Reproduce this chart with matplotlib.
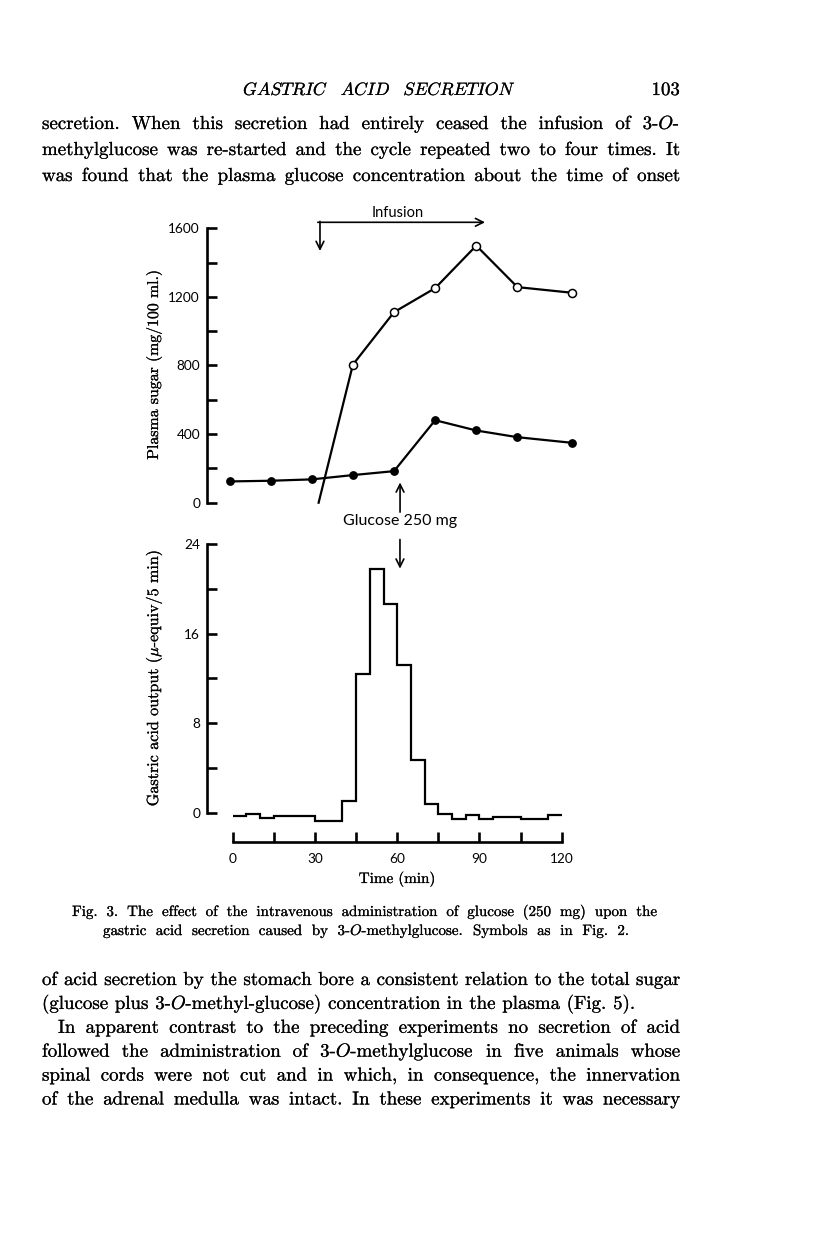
import matplotlib
matplotlib.use('Agg')
import matplotlib.pyplot as plt
import matplotlib.patheffects as pe

plt.rcParams['mathtext.fontset'] = 'cm'
plt.rcParams['axes.unicode_minus'] = False
plt.rcParams['axes.formatter.use_mathtext'] = True

W, H, DPI = 816, 1258, 100

# ---------------- data ----------------
glucose_time = [0, 15, 30, 45, 60, 75, 90, 105, 125]
glucose_sugar = [124, 128, 136, 161, 184, 481, 421, 382, 349]
methyl_time = [32.5, 45, 60, 75, 90, 105, 125]
methyl_sugar = [0, 805, 1111, 1251, 1499, 1257, 1224]
acid_edges = list(range(0, 125, 5))
acid_output = [-0.29, -0.14, -0.50, -0.27, -0.27, -0.27, -0.77, -0.77, 1.04,
               12.4, 21.8, 18.6, 13.2, 4.75, 0.75, -0.14, -0.53, -0.18,
               -0.56, -0.36, -0.36, -0.59, -0.59, -0.23]
sugar_ticks = [0, 400, 800, 1200, 1600]
acid_ticks = [0, 8, 16, 24]
time_ticks = [0, 30, 60, 90, 120]

header_words = [r'$\mathit{GASTRIC}$', r'$\mathit{ACID}$', r'$\mathit{SECRETION}$']
top_lines = [
    "secretion. When this secretion had entirely ceased the infusion of 3-$\\mathit{O}$-",
    "methylglucose was re-started and the cycle repeated two to four times. It",
    "was found that the plasma glucose concentration about the time of onset",
]
caption_lines = [
    "Fig. 3. The effect of the intravenous administration of glucose (250 mg) upon the",
    "gastric acid secretion caused by 3-$\\mathit{O}$-methylglucose. Symbols as in Fig. 2.",
]
bottom_lines = [
    "of acid secretion by the stomach bore a consistent relation to the total sugar",
    "(glucose plus 3-$\\mathit{O}$-methyl-glucose) concentration in the plasma (Fig. 5).",
    "In apparent contrast to the preceding experiments no secretion of acid",
    "followed the administration of 3-$\\mathit{O}$-methylglucose in five animals whose",
    "spinal cords were not cut and in which, in consequence, the innervation",
    "of the adrenal medulla was intact. In these experiments it was necessary",
]

fig = plt.figure(figsize=(W / DPI, H / DPI), dpi=DPI, facecolor='white')
renderer = fig.canvas.get_renderer()
SERIF = 'cmr10'
SANS = 'Lato'
BODY = 13.6
INK = [pe.withStroke(linewidth=0.15, foreground='black')]


def fpos(x, y):
    return (x / W, 1 - y / H)


def add_axes_px(left, top, right, bottom):
    return fig.add_axes([left / W, 1 - bottom / H, (right - left) / W, (bottom - top) / H])


def place_words(words, x0, x1, y, size, justify=True):
    objs = [fig.text(0, 0, w, fontsize=size, family=SERIF, va='baseline', ha='left',
                     path_effects=INK)
            for w in words]
    widths = [o.get_window_extent(renderer).width for o in objs]
    if justify and len(words) > 1:
        gap = (x1 - x0 - sum(widths)) / (len(words) - 1)
    else:
        gap = 0.36 * size * DPI / 72
    x = x0
    for o, w in zip(objs, widths):
        o.set_position(fpos(x, y))
        x += w + gap


def fit_text(s, xc, yc, width, family, rotation=0, **kw):
    t = fig.text(*fpos(xc, yc), s, fontsize=10, family=family, rotation=rotation,
                 ha='center', va='center', **kw)
    bb = t.get_window_extent(renderer)
    cur = bb.height if rotation == 90 else bb.width
    t.set_fontsize(10 * width / cur)
    return t


# ---------------- page text ----------------
place_words(header_words, 243, 516, 95, 12.8)
fig.text(*fpos(680, 95), '103', fontsize=13.6, family=SERIF, ha='right', va='baseline',
         path_effects=INK)
for i, line in enumerate(top_lines):
    place_words(line.split(' '), 42, 680, 129 + 26 * i, BODY)
place_words(caption_lines[0].split(' '), 72, 657, 916, 10.8)
place_words(caption_lines[1].split(' '), 103, 629, 935, 10.8)
for i, line in enumerate(bottom_lines):
    y = 985 + 23.9 * i
    if i == 1:
        place_words(line.split(' '), 42, 680, y, BODY, justify=False)
    elif i == 2:
        place_words(line.split(' '), 58, 680, y, BODY)
    else:
        place_words(line.split(' '), 42, 680, y, BODY)

LW_SPINE = 1.9
LW_DATA = 1.6

# ---------------- top panel ----------------
ax1 = add_axes_px(207, 200, 575, 515)
ax1.set_xlim((207 - 229.5) / 2.742, (575 - 229.5) / 2.742)
ax1.set_ylim(-12.3 / 0.1715, 1600 + 28.3 / 0.1715)
for s in ['top', 'right', 'bottom']:
    ax1.spines[s].set_visible(False)
ax1.spines['left'].set_bounds(0, 1600)
ax1.spines['left'].set_linewidth(LW_SPINE)
ax1.set_xticks([])
ax1.set_yticks(list(range(0, 1601, 200)))
ax1.set_yticklabels([str(v) if v in sugar_ticks else '' for v in range(0, 1601, 200)])
ax1.tick_params(axis='y', direction='in', length=7.5, width=LW_SPINE, pad=5,
                labelsize=9.8, labelfontfamily=SANS)
ax1.patch.set_visible(False)

ax1.plot(glucose_time, glucose_sugar, color='black', lw=LW_DATA, marker='o',
         markersize=5.3, markerfacecolor='black', markeredgecolor='black', clip_on=False)
ax1.plot(methyl_time, methyl_sugar, color='black', lw=LW_DATA, clip_on=False)
ax1.plot(methyl_time[1:], methyl_sugar[1:], linestyle='none', marker='o',
         markersize=5.8, markerfacecolor='white', markeredgecolor='black',
         markeredgewidth=1.1, clip_on=False, zorder=3)

# infusion arrows
ax1.annotate('', xy=(93.2, 1635), xytext=(32.2, 1635), annotation_clip=False,
             arrowprops=dict(arrowstyle='->', lw=1.2, color='black',
                             shrinkA=0, shrinkB=0, mutation_scale=14))
ax1.annotate('', xy=(33, 1468), xytext=(33, 1640), annotation_clip=False,
             arrowprops=dict(arrowstyle='->', lw=1.2, color='black',
                             shrinkA=0, shrinkB=0, mutation_scale=14))
fit_text('Infusion', 397.5, 213, 51.7, SANS)

# glucose arrow (top)
ax1.annotate('', xy=(62.2, 118), xytext=(62.2, -55), annotation_clip=False,
             arrowprops=dict(arrowstyle='->', lw=1.2, color='black',
                             shrinkA=0, shrinkB=0, mutation_scale=14))
fit_text('Glucose 250 mg', 400, 521, 114, SANS)

fit_text('Plasma sugar (mg/100 ml.)', 154, 365, 190, SERIF, rotation=90,
         path_effects=INK)

# ---------------- bottom panel ----------------
ax2 = add_axes_px(207, 530, 575, 860)
ax2.set_xlim((207 - 232.7) / 2.742, (575 - 232.7) / 2.742)
ax2.set_ylim(-(860 - 812.7) / 11.196, 24 + 14 / 11.196)
for s in ['top', 'right']:
    ax2.spines[s].set_visible(False)
ax2.spines['left'].set_bounds(0, 24)
ax2.spines['left'].set_linewidth(LW_SPINE)
ax2.spines['bottom'].set_position(('data', -(842.3 - 812.7) / 11.196))
ax2.spines['bottom'].set_bounds(0, 120)
ax2.spines['bottom'].set_linewidth(LW_SPINE)
ax2.set_yticks(list(range(0, 25, 4)))
ax2.set_yticklabels([str(v) if v in acid_ticks else '' for v in range(0, 25, 4)])
ax2.set_xticks(list(range(0, 121, 15)))
ax2.set_xticklabels([str(v) if v in time_ticks else '' for v in range(0, 121, 15)])
ax2.tick_params(axis='both', direction='in', length=7.5, width=LW_SPINE, pad=5,
                labelsize=9.8, labelfontfamily=SANS)
ax2.tick_params(axis='x', pad=8)
ax2.patch.set_visible(False)

ax2.stairs(acid_output, acid_edges, baseline=None, color='black', lw=LW_DATA)

ax2.annotate('', xy=(61, 21.8), xytext=(61, 24.4), annotation_clip=False,
             arrowprops=dict(arrowstyle='->', lw=1.2, color='black',
                             shrinkA=0, shrinkB=0, mutation_scale=14))

fit_text('Gastric acid output ($\\mu$-equiv/5 min)', 154, 678, 257, SERIF, rotation=90,
         path_effects=INK)
fit_text('Time (min)', 397, 879, 76.7, SERIF, path_effects=INK)

fig.savefig('out.png', dpi=DPI, facecolor='white')
